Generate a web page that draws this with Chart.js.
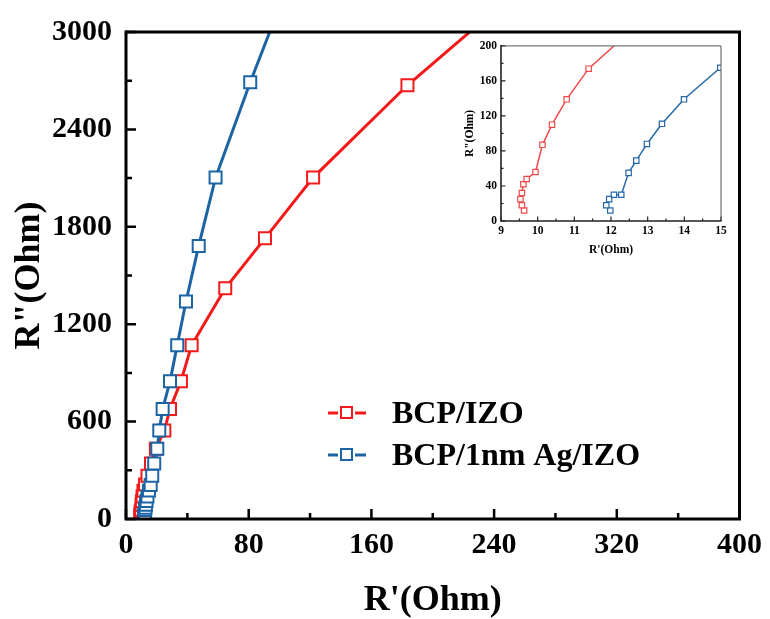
<!doctype html>
<html lang="en">
<head>
  <meta charset="utf-8">
  <title>Nyquist plot</title>
  <style>
    body { margin: 0; background: #fff; }
    #wrap { position: relative; width: 770px; height: 619px; }
    #inset { position: absolute; left: 455px; top: 35px; }
  </style>
</head>
<body>
  <div id="wrap">
    <canvas id="main" width="770" height="619"></canvas>
    <canvas id="inset" width="280" height="230"></canvas>
  </div>
  <script src="https://cdn.jsdelivr.net/npm/chart.js"></script>
  <script>
    // R' / R'' values (low part from the inset)
    const redX = [9.63, 9.57, 9.53, 9.57, 9.61, 9.70, 9.94, 10.13, 10.39, 10.79, 11.39, 12.4, 14.0, 16.3, 19.5, 25.0, 28.7, 35.8, 42.8, 64.7, 90.6, 122, 183.5, 255];
    const redY = [12, 18, 25, 32, 42, 48, 56, 87, 110, 139, 174, 212, 267, 342, 433, 545, 678, 848, 1071, 1421, 1729, 2103, 2672, 3250];
    const blueX = [11.98, 11.87, 11.95, 12.08, 12.28, 12.48, 12.69, 12.98, 13.39, 13.99, 14.98, 16.1, 17.1, 18.4, 20.4, 21.7, 23.9, 28.7, 33.4, 39.1, 47.4, 58.4, 81.0, 106];
    const blueY = [12, 18, 25, 30, 30, 55, 69, 88, 111, 139, 175, 210, 267, 342, 433, 545, 678, 848, 1071, 1340, 1682, 2103, 2690, 3300];
    const seriesNames = ['BCP/IZO', 'BCP/1nm Ag/IZO'];

    const RED = '#f41a1a';
    const BLUE = '#1d64a5';
    const SERIF = '"Liberation Serif", "Times New Roman", serif';

    const toPoints = (xs, ys) => xs.map((x, i) => ({x: x, y: ys[i]}));

    // box frame + inward ticks (Origin style)
    const framePlugin = {
      id: 'frame',
      afterDatasetsDraw(chart, args, o) {
        const {ctx, chartArea: a, scales} = chart;
        ctx.save();
        ctx.strokeStyle = o.color;
        ctx.lineWidth = o.tickWidth;
        ctx.beginPath();
        const xt = scales.x.ticks, yt = scales.y.ticks;
        xt.forEach((t, i) => {
          const px = scales.x.getPixelForValue(t.value);
          ctx.moveTo(px, a.bottom); ctx.lineTo(px, a.bottom - o.major);
          if (i < xt.length - 1) {
            const mx = scales.x.getPixelForValue((t.value + xt[i + 1].value) / 2);
            ctx.moveTo(mx, a.bottom); ctx.lineTo(mx, a.bottom - o.minor);
          }
        });
        yt.forEach((t, i) => {
          const py = scales.y.getPixelForValue(t.value);
          ctx.moveTo(a.left, py); ctx.lineTo(a.left + o.major, py);
          if (i < yt.length - 1) {
            const my = scales.y.getPixelForValue((t.value + yt[i + 1].value) / 2);
            ctx.moveTo(a.left, my); ctx.lineTo(a.left + o.minor, my);
          }
        });
        ctx.stroke();
        // top and right sides
        ctx.strokeStyle = o.sideColor;
        ctx.lineWidth = o.sideWidth;
        ctx.beginPath();
        ctx.moveTo(a.left, a.top); ctx.lineTo(a.right, a.top); ctx.lineTo(a.right, a.bottom);
        ctx.stroke();
        // axes
        ctx.strokeStyle = o.color;
        ctx.lineWidth = o.width;
        ctx.beginPath();
        ctx.moveTo(a.left, a.top - o.width / 2); ctx.lineTo(a.left, a.bottom); ctx.lineTo(a.right + o.sideWidth / 2, a.bottom);
        ctx.stroke();
        ctx.restore();
      }
    };

    const legendPlugin = {
      id: 'sideLegend',
      afterDraw(chart) {
        const ctx = chart.ctx;
        const colors = [RED, BLUE];
        ctx.save();
        seriesNames.forEach((name, i) => {
          const y = 413 + i * 42;
          ctx.strokeStyle = colors[i];
          ctx.lineWidth = 3;
          ctx.beginPath();
          ctx.moveTo(328, y); ctx.lineTo(338, y);
          ctx.moveTo(355, y); ctx.lineTo(366, y);
          ctx.stroke();
          ctx.lineWidth = 2;
          ctx.strokeRect(341, y - 6, 11, 11);
          ctx.fillStyle = '#000';
          ctx.font = 'bold 32px ' + SERIF;
          ctx.textBaseline = 'alphabetic';
          ctx.fillText(name, 392, y + 10);
        });
        ctx.restore();
      }
    };

    function dataset(label, xs, ys, color, lw, r, bw) {
      return {
        label: label,
        data: toPoints(xs, ys),
        showLine: true,
        borderColor: color,
        borderWidth: lw,
        pointStyle: 'rect',
        pointRadius: r,
        pointBorderWidth: bw,
        pointBorderColor: color,
        pointBackgroundColor: '#fff',
        tension: 0
      };
    }

    function axis(min, max, step, size, pad, titleText, titleSize, titlePad, fit) {
      return {
        type: 'linear',
        min: min,
        max: max,
        grid: {display: false, drawTicks: false},
        border: {display: false},
        ticks: {
          stepSize: step,
          autoSkip: false,
          maxRotation: 0,
          padding: pad,
          color: '#000',
          callback: v => String(v),
          font: {family: SERIF, size: size, weight: 'bold'}
        },
        title: {
          display: true,
          text: titleText,
          color: '#000',
          padding: titlePad,
          font: {family: SERIF, size: titleSize, weight: 'bold', lineHeight: 1}
        },
        afterFit: fit
      };
    }

    new Chart(document.getElementById('main'), {
      type: 'scatter',
      data: {
        datasets: [
          dataset(seriesNames[1], blueX, blueY, BLUE, 3, 8.5, 2),
          dataset(seriesNames[0], redX, redY, RED, 3, 8.5, 2)
        ]
      },
      options: {
        responsive: false,
        animation: false,
        layout: {padding: {left: 0, right: 30, top: 25, bottom: 0}},
        plugins: {
          legend: {display: false},
          tooltip: {enabled: false},
          frame: {color: '#000', width: 3, tickWidth: 2.5, major: 10, minor: 6, sideColor: '#000', sideWidth: 3}
        },
        scales: {
          x: axis(0, 400, 80, 30, 8, "R'(Ohm)", 36, {top: 0, bottom: 0}, s => { s.height = 100; }),
          y: axis(0, 3000, 600, 30, 14, 'R"(Ohm)', 36, {top: 12, bottom: 0}, s => { s.width = 126; })
        }
      },
      plugins: [framePlugin, legendPlugin]
    });

    new Chart(document.getElementById('inset'), {
      type: 'scatter',
      data: {
        datasets: [
          dataset(seriesNames[1], blueX, blueY, '#2468a8', 1.5, 3.8, 1.2),
          dataset(seriesNames[0], redX, redY, '#ef4a4a', 1.5, 3.8, 1.2)
        ]
      },
      options: {
        responsive: false,
        animation: false,
        layout: {padding: {left: 0, right: 14, top: 8.5, bottom: 0}},
        plugins: {
          legend: {display: false},
          tooltip: {enabled: false},
          frame: {color: '#222', width: 1.6, tickWidth: 1.2, major: 4.5, minor: 2.5, sideColor: '#555', sideWidth: 1}
        },
        scales: {
          x: axis(9, 15, 1, 11.5, 3, "R'(Ohm)", 11.5, {top: 0, bottom: 9}, s => { s.height = 44; }),
          y: axis(0, 200, 40, 11.5, 4, 'R"(Ohm)', 11.5, {top: 9, bottom: 0}, s => { s.width = 46; })
        }
      },
      plugins: [framePlugin]
    });
  </script>
</body>
</html>
